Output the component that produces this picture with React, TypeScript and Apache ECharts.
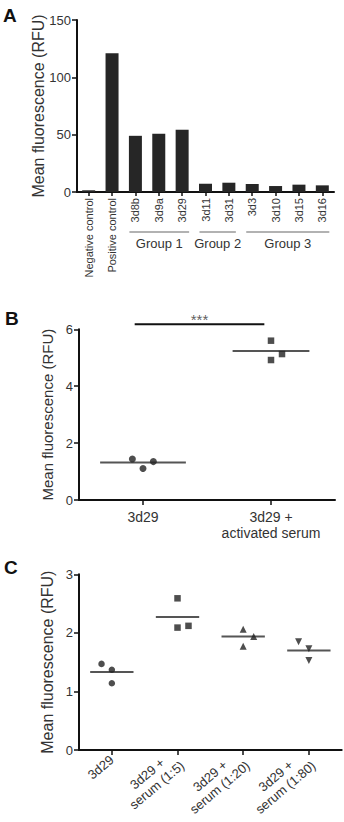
import React, { useEffect, useRef } from "react";
import * as echarts from "echarts";

// ---------- Panel A ----------
const catA = ["Negative control", "Positive control", "3d8b", "3d9a", "3d29", "3d11", "3d31", "3d3", "3d10", "3d15", "3d16"];
const valA = [1.5, 121, 49, 50.8, 54.3, 7.2, 8.1, 7.0, 5.2, 6.4, 5.8];
const groupNames = ["Group 1", "Group 2", "Group 3"];
const groupFirst = [2, 5, 7];
const groupLast = [4, 6, 10];

// ---------- Panel B ----------
const catB = ["3d29", "3d29 +\nactivated serum"];
const bValues = [
  [1.44, 1.11, 1.35],
  [5.6, 4.92, 5.13],
];
const bJitter = [
  [-0.083, 0, 0.081],
  [0, 0, 0.086],
];
const bSymbols = ["circle", "rect"];
const meansB = [1.32, 5.24];
const meanHalfB = [0.335, 0.3];
const sigBarB = [-0.065, 0.948];
const sigYB = 6.18;
const sigText = "***";

// ---------- Panel C ----------
const catC = ["3d29", "3d29 +\nserum (1:5)", "3d29 +\nserum (1:20)", "3d29 +\nserum (1:80)"];
const cValues = [
  [1.47, 1.37, 1.14],
  [2.59, 2.09, 2.12],
  [2.06, 1.94, 1.77],
  [1.85, 1.73, 1.53],
];
const cJitter = [
  [-0.157, 0, 0],
  [0, 0, 0.167],
  [0, 0.16, 0],
  [-0.157, 0, 0],
];
const cSymbols = ["circle", "rect", "triangle", "triangle"];
const cRotate = [0, 0, 0, 180];
const meansC = [1.33, 2.27, 1.94, 1.7];
const meanHalfC = [0.33, 0.33, 0.33, 0.33];

const FONT = "'Liberation Sans', Arial, Helvetica, sans-serif";
const AXIS = "#111";
const TXT = "#333";
const MARK = "#222";
const MEAN = "#555";

function axisCommon() {
  return {
    axisLine: { show: true, onZero: false, lineStyle: { color: AXIS, width: 2 } },
    axisTick: { show: true, length: 5, lineStyle: { color: AXIS, width: 1.5 } },
    splitLine: { show: false },
  };
}

export default function App() {
  const ref = useRef<HTMLDivElement>(null);
  useEffect(() => {
    if (!ref.current) return;
    const chart = echarts.init(ref.current, undefined, { renderer: "svg" });

    const series: any[] = [];
    series.push({
      type: "bar",
      xAxisIndex: 0,
      yAxisIndex: 0,
      data: valA,
      barWidth: 13,
      itemStyle: { color: "#262626" },
    });

    bValues.forEach((vals, g) => {
      series.push({
        type: "scatter",
        xAxisIndex: 2,
        yAxisIndex: 1,
        symbol: bSymbols[g],
        symbolSize: g === 0 ? 7 : 6.5,
        itemStyle: { color: MARK },
        data: vals.map((v, i) => [g + bJitter[g][i], v]),
        z: 3,
      });
      series.push({
        type: "line",
        xAxisIndex: 2,
        yAxisIndex: 1,
        symbol: "none",
        lineStyle: { color: MEAN, width: 2 },
        data: [
          [g - meanHalfB[g], meansB[g]],
          [g + meanHalfB[g], meansB[g]],
        ],
        z: 2,
      });
    });
    series.push({
      type: "line",
      xAxisIndex: 2,
      yAxisIndex: 1,
      symbol: "none",
      clip: false,
      lineStyle: { color: AXIS, width: 2 },
      data: [
        [sigBarB[0], sigYB],
        [sigBarB[1], sigYB],
      ],
    });
    series.push({
      type: "scatter",
      xAxisIndex: 2,
      yAxisIndex: 1,
      symbolSize: 0,
      clip: false,
      silent: true,
      label: {
        show: true,
        position: "top",
        distance: -3,
        formatter: sigText,
        fontSize: 15,
        fontFamily: FONT,
        color: TXT,
      },
      data: [[(sigBarB[0] + sigBarB[1]) / 2, sigYB]],
    });

    cValues.forEach((vals, g) => {
      series.push({
        type: "scatter",
        xAxisIndex: 4,
        yAxisIndex: 2,
        symbol: cSymbols[g],
        symbolRotate: cRotate[g],
        symbolSize: g < 2 ? 6.5 : 7,
        itemStyle: { color: MARK },
        data: vals.map((v, i) => [g + cJitter[g][i], v]),
        z: 3,
      });
      series.push({
        type: "line",
        xAxisIndex: 4,
        yAxisIndex: 2,
        symbol: "none",
        lineStyle: { color: MEAN, width: 2 },
        data: [
          [g - meanHalfC[g], meansC[g]],
          [g + meanHalfC[g], meansC[g]],
        ],
        z: 2,
      });
    });

    const yName = "Mean fluorescence (RFU)";
    const yLabel = { margin: 6, fontSize: 13, color: TXT, fontFamily: FONT };
    const option: any = {
      animation: false,
      textStyle: { fontFamily: FONT },
      grid: [
        { left: 77, top: 20, width: 257, height: 172 },
        { left: 79, top: 329.3, width: 256, height: 170.7 },
        { left: 79, top: 574.3, width: 262.7, height: 175.7 },
      ],
      xAxis: [
        {
          type: "category",
          gridIndex: 0,
          data: catA,
          ...axisCommon(),
          axisTick: { show: true, alignWithLabel: true, length: 4, lineStyle: { color: AXIS, width: 1.5 } },
          axisLabel: { interval: 0, rotate: 90, margin: 6, fontSize: 11, color: TXT, fontFamily: FONT },
        },
        {
          type: "category",
          gridIndex: 1,
          data: catB,
          ...axisCommon(),
          axisTick: { show: true, alignWithLabel: true, length: 5, lineStyle: { color: AXIS, width: 1.5 } },
          axisLabel: { interval: 0, margin: 9, fontSize: 14, lineHeight: 16, color: TXT, fontFamily: FONT },
        },
        { type: "value", gridIndex: 1, min: -0.5, max: 1.5, show: false },
        {
          type: "category",
          gridIndex: 2,
          data: catC,
          ...axisCommon(),
          axisTick: { show: true, alignWithLabel: true, length: 5, lineStyle: { color: AXIS, width: 1.5 } },
          axisLabel: {
            interval: 0,
            rotate: 40,
            margin: 8,
            fontSize: 13,
            lineHeight: 15,
            color: TXT,
            fontFamily: FONT,
            formatter: (v: string) =>
              v.indexOf("\n") >= 0 ? v.split("\n").map((l) => `{c|${l}}`).join("\n") : v,
            rich: { c: { align: "center", fontSize: 13, lineHeight: 15, color: TXT, fontFamily: FONT } },
          },
        },
        { type: "value", gridIndex: 2, min: -0.5, max: 3.5, show: false },
      ],
      yAxis: [
        {
          type: "value",
          gridIndex: 0,
          min: 0,
          max: 150,
          interval: 50,
          ...axisCommon(),
          axisLabel: yLabel,
          name: yName,
          nameLocation: "middle",
          nameGap: 31,
          nameMoveOverlap: false,
          nameTextStyle: { fontSize: 16, color: TXT, fontFamily: FONT },
        },
        {
          type: "value",
          gridIndex: 1,
          min: 0,
          max: 6,
          interval: 2,
          ...axisCommon(),
          axisLabel: yLabel,
          name: yName,
          nameLocation: "middle",
          nameGap: 24,
          nameMoveOverlap: false,
          nameTextStyle: { fontSize: 15, color: TXT, fontFamily: FONT },
        },
        {
          type: "value",
          gridIndex: 2,
          min: 0,
          max: 3,
          interval: 1,
          ...axisCommon(),
          axisLabel: yLabel,
          name: yName,
          nameLocation: "middle",
          nameGap: 24,
          nameMoveOverlap: false,
          nameTextStyle: { fontSize: 16, color: TXT, fontFamily: FONT },
        },
      ],
      series,
    };
    chart.setOption(option);

    const graphics: any[] = [];
    groupNames.forEach((name, g) => {
      const p1 = chart.convertToPixel({ gridIndex: 0 } as any, [groupFirst[g], 0]) as number[];
      const p2 = chart.convertToPixel({ gridIndex: 0 } as any, [groupLast[g], 0]) as number[];
      const x1 = p1[0] - 6;
      const x2 = p2[0] + 7;
      const y0 = p1[1];
      graphics.push({
        type: "line",
        shape: { x1, y1: y0 + 40, x2, y2: y0 + 40 },
        style: { stroke: "#999", lineWidth: 1.5 },
      });
      graphics.push({
        type: "text",
        x: (x1 + x2) / 2,
        y: y0 + 51,
        style: {
          text: name,
          fontSize: 13,
          fontFamily: FONT,
          fill: TXT,
          textAlign: "center",
          textVerticalAlign: "middle",
        },
      });
    });
    const letters: [string, number, number][] = [
      ["A", 3, 6],
      ["B", 5, 309],
      ["C", 4, 558],
    ];
    letters.forEach(([t, x, y]) => {
      graphics.push({
        type: "text",
        x,
        y,
        style: { text: t, fontSize: 19, fontWeight: "bold", fontFamily: FONT, fill: "#111", textVerticalAlign: "top" },
      });
    });
    chart.setOption({ graphic: graphics });

    return () => chart.dispose();
  }, []);
  return <div ref={ref} style={{ position: "absolute", left: 0, top: 0, width: 344, height: 822 }} />;
}
